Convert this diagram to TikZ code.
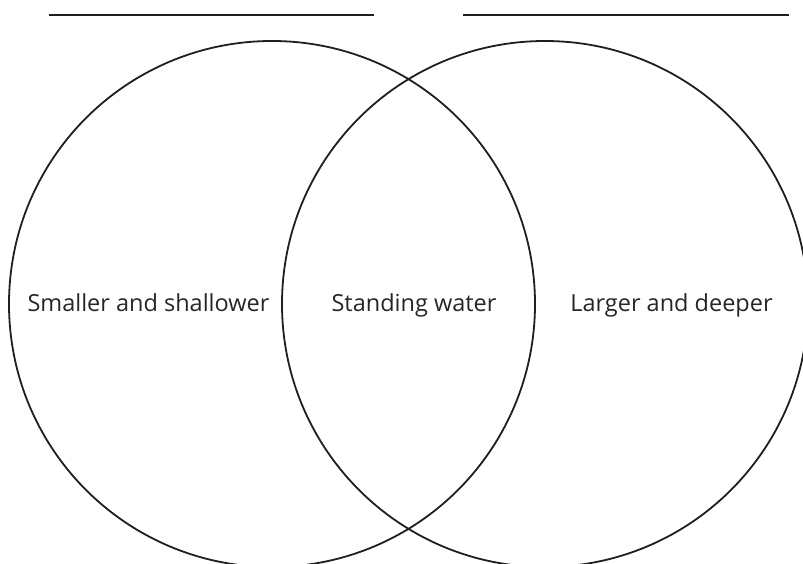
\documentclass[tikz,border=0pt]{standalone}
\usepackage{fontspec}
\setmainfont{Open Sans}
\begin{document}
\begin{tikzpicture}[x=1pt,y=-1pt,
  ring/.style={circle,draw=black!88,line width=1.8pt,minimum size=526pt,inner sep=0pt},
  label/.style={anchor=base,font=\fontsize{23.5}{26}\selectfont,text=black!85,inner sep=0pt},
  rule/.style={draw=black!88,line width=2.2pt}]
\useasboundingbox (0,0) rectangle (803,564);
\node[ring] (L) at (272,304) {};
\node[ring] (R) at (545,304) {};
\coordinate (l1) at (49,15);
\coordinate (l2) at (374,15);
\coordinate (r1) at (463,15);
\coordinate (r2) at (789,15);
\draw[rule] (l1) -- (l2);
\draw[rule] (r1) -- (r2);
\node[label] (tl) at (148.5,311) {Smaller and shallower};
\node[label] (tm) at (414,311) {Standing water};
\node[label] (tr) at (671.5,311) {Larger and deeper};
\end{tikzpicture}
\end{document}
